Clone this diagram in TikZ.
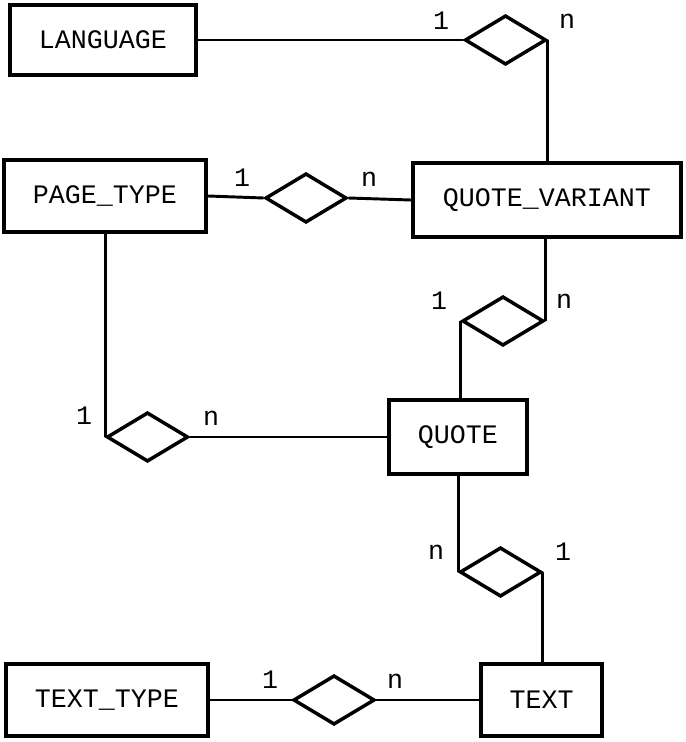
\documentclass[tikz,border=0pt]{standalone}
\usepackage{fontspec}
\setmainfont{Liberation Mono}
\usepackage{tikz}
\usetikzlibrary{shapes.geometric}

\begin{document}
\begin{tikzpicture}[x=0.75pt,y=0.75pt,yscale=-1,xscale=1,
  entity/.style={draw, line width=3pt, inner sep=0pt, minimum height=54pt, font=\fontsize{20}{24}\selectfont},
  relation/.style={draw, diamond, line width=2.6pt, inner sep=0pt, minimum width=61pt, minimum height=37pt},
  card/.style={inner sep=0pt, font=\fontsize{20}{24}\selectfont},
  link/.style={line width=2.2pt}]
\useasboundingbox (0,0) rectangle (685,742);

%Entities
\node [entity, minimum width=139.5pt, minimum height=52.5pt] (language) at (103,40) {LANGUAGE};
\node [entity, minimum width=151.5pt] (pagetype) at (105,196) {PAGE\_TYPE};
\node [entity, minimum width=201pt, minimum height=55pt] (quotevariant) at (547,200) {QUOTE\_VARIANT};
\node [entity, minimum width=103.5pt, minimum height=55.5pt] (quote) at (458,437) {QUOTE};
\node [entity, minimum width=151.5pt] (texttype) at (107,700) {TEXT\_TYPE};
\node [entity, minimum width=90.75pt] (text) at (541.5,700) {TEXT};

%Relationships
\node [relation] (rel1) at (505.5,40) {};
\node [relation] (rel2) at (306,198) {};
\node [relation] (rel3) at (503,321) {};
\node [relation] (rel4) at (147.5,437) {};
\node [relation] (rel5) at (500.5,572) {};
\node [relation] (rel6) at (334,700) {};

%Straight Lines
\draw [link] (language.east) -- (rel1.west) ;
\draw [link] (rel1.east) -- (rel1.east |- quotevariant.north) ;
\draw [link] (pagetype.east) -- (rel2.west) ;
\draw [link] (rel2.east) -- (quotevariant.west) ;
\draw [link] (rel3.east) -- (rel3.east |- quotevariant.south) ;
\draw [link] (rel3.west) -- (rel3.west |- quote.north) ;
\draw [link] (rel4.west) -- (rel4.west |- pagetype.south) ;
\draw [link] (rel4.east) -- (quote.west) ;
\draw [link] (rel5.west) -- (rel5.west |- quote.south) ;
\draw [link] (rel5.east) -- (rel5.east |- text.north) ;
\draw [link] (texttype.east) -- (rel6.west) ;
\draw [link] (rel6.east) -- (text.west) ;

% Text Node
\node [card] (c1a) at (441,21) {1};
\node [card] (c1b) at (567,21) {n};
\node [card] (c2a) at (242,178) {1};
\node [card] (c2b) at (369,179) {n};
\node [card] (c3a) at (439,301) {1};
\node [card] (c3b) at (564,301) {n};
\node [card] (c4a) at (84,416) {1};
\node [card] (c4b) at (211,418) {n};
\node [card] (c5a) at (436,552) {n};
\node [card] (c5b) at (563,552) {1};
\node [card] (c6a) at (270,680) {1};
\node [card] (c6b) at (395,681) {n};

\end{tikzpicture}
\end{document}
